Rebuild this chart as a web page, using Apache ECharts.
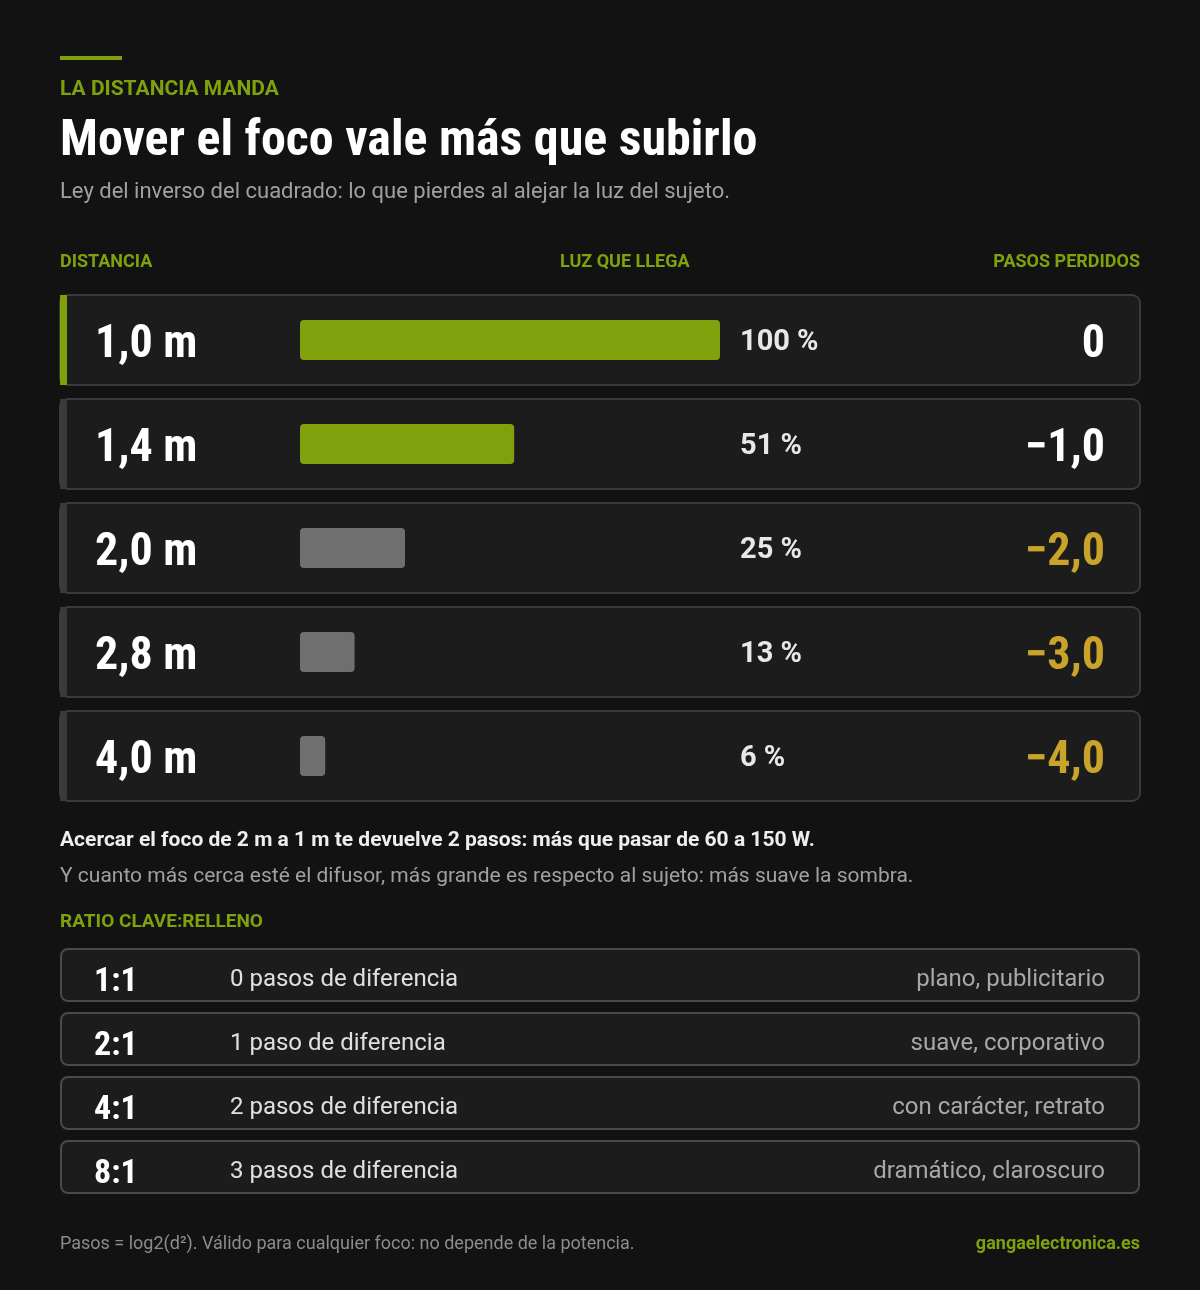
<!DOCTYPE html>
<html><head><meta charset="utf-8">
<script src="https://cdn.jsdelivr.net/npm/echarts@6/dist/echarts.min.js"></script>
<style>html,body{margin:0;background:#121212}#c{width:1200px;height:1290px}</style>
</head><body><div id="c"></div>
<script>
const distances = ['1,0 m','1,4 m','2,0 m','2,8 m','4,0 m'];
const lightPct = [100, 51, 25, 13, 6];
const stopsLost = ['0','−1,0','−2,0','−3,0','−4,0'];
const ratios = ['1:1','2:1','4:1','8:1'];
const ratioSteps = ['0 pasos de diferencia','1 paso de diferencia','2 pasos de diferencia','3 pasos de diferencia'];
const ratioDesc = ['plano, publicitario','suave, corporativo','con carácter, retrato','dramático, claroscuro'];

const GREEN='#7fa20c', YEL='#c9a32a', GRAY='#6f6f6f';
const COND="'Roboto Condensed','Liberation Sans Narrow','DejaVu Sans Condensed',Roboto,sans-serif";
const SANS="Roboto,'Noto Sans',sans-serif";
const chart = echarts.init(document.getElementById('c'), null, {renderer:'canvas'});

const g = [];
g.push({type:'rect',shape:{x:60,y:56,width:62,height:4},style:{fill:GREEN}});
g.push({type:'text',x:60,y:90,style:{text:'LA DISTANCIA MANDA',fill:GREEN,font:'bold 21px '+SANS,textVerticalAlign:'middle'}});
g.push({type:'text',x:60,y:142,style:{text:'Mover el foco vale más que subirlo',fill:'#fff',font:'bold 50px '+COND,textVerticalAlign:'middle'}});
g.push({type:'text',x:60,y:192,style:{text:'Ley del inverso del cuadrado: lo que pierdes al alejar la luz del sujeto.',fill:'#a0a0a0',font:'22px '+SANS,textVerticalAlign:'middle'}});
const hdr=(t,x,a)=>g.push({type:'text',x,y:262,style:{text:t,fill:GREEN,font:'bold 18px '+SANS,textVerticalAlign:'middle',textAlign:a}});
hdr('DISTANCIA',60,'left');hdr('LUZ QUE LLEGA',560,'left');hdr('PASOS PERDIDOS',1140,'right');

distances.forEach((d,i)=>{
  const y=295+i*104;
  g.push({type:'rect',z:0,shape:{x:60,y,width:1080,height:90,r:8},style:{fill:'#1c1c1c',stroke:'#3a3a3a',lineWidth:2}});
  g.push({type:'rect',z:1,shape:{x:60,y,width:7,height:90},style:{fill:i===0?GREEN:'#3a3a3a'}});
  g.push({type:'text',z:2,x:95,y:y+50,style:{text:d,fill:'#fff',font:'bold 46px '+COND,textVerticalAlign:'middle'}});
  g.push({type:'text',z:2,x:740,y:y+48,style:{text:lightPct[i]+' %',fill:'#e8e8e8',font:'bold 29px '+SANS,textVerticalAlign:'middle'}});
  g.push({type:'text',z:2,x:1105,y:y+50,style:{text:stopsLost[i],fill:i<2?'#fff':YEL,font:'bold 46px '+COND,textVerticalAlign:'middle',textAlign:'right'}});
});

g.push({type:'text',x:60,y:841,style:{text:'Acercar el foco de 2 m a 1 m te devuelve 2 pasos: más que pasar de 60 a 150 W.',fill:'#eee',font:'bold 21px '+SANS,textVerticalAlign:'middle'}});
g.push({type:'text',x:60,y:877,style:{text:'Y cuanto más cerca esté el difusor, más grande es respecto al sujeto: más suave la sombra.',fill:'#a0a0a0',font:'21px '+SANS,textVerticalAlign:'middle'}});
g.push({type:'text',x:60,y:922,style:{text:'RATIO CLAVE:RELLENO',fill:GREEN,font:'bold 19px '+SANS,textVerticalAlign:'middle'}});
ratios.forEach((r,i)=>{
  const y=949+i*64;
  g.push({type:'rect',shape:{x:61,y,width:1078,height:52,r:7},style:{fill:'#1c1c1c',stroke:'#4a4a4a',lineWidth:2}});
  g.push({type:'text',x:94,y:y+33,style:{text:r,fill:'#fff',font:'bold 34px '+COND,textVerticalAlign:'middle'}});
  g.push({type:'text',x:230,y:y+31,style:{text:ratioSteps[i],fill:'#e0e0e0',font:'24px '+SANS,textVerticalAlign:'middle'}});
  g.push({type:'text',x:1105,y:y+31,style:{text:ratioDesc[i],fill:'#a8a8a8',font:'24px '+SANS,textVerticalAlign:'middle',textAlign:'right'}});
});
g.push({type:'text',x:60,y:1244,style:{text:'Pasos = log2(d²). Válido para cualquier foco: no depende de la potencia.',fill:'#8c8c8c',font:'18px '+SANS,textVerticalAlign:'middle'}});
g.push({type:'text',x:1140,y:1244,style:{text:'gangaelectronica.es',fill:GREEN,font:'bold 18px '+SANS,textVerticalAlign:'middle',textAlign:'right'}});

chart.setOption({
  backgroundColor:'#121212',
  animation:false,
  grid:{left:300,top:288,width:420,height:520,containLabel:false},
  xAxis:{type:'value',min:0,max:100,show:false},
  yAxis:{type:'category',data:distances,inverse:true,show:false},
  graphic:{elements:g},
  series:[{type:'bar',z:5,barWidth:40,
    data:lightPct.map((v,i)=>({value:v,itemStyle:{color:i<2?GREEN:GRAY}})),
    itemStyle:{borderRadius:4}}]
});
</script></body></html>
